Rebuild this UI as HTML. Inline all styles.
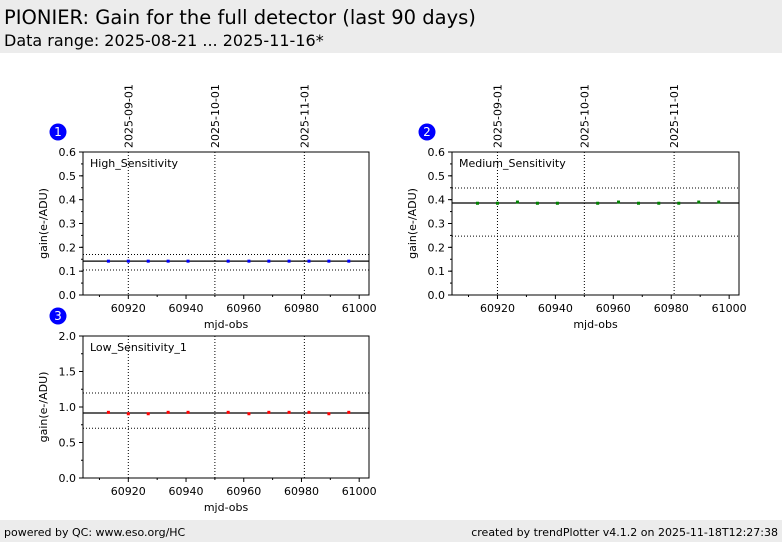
<!DOCTYPE html>
<html><head><meta charset="utf-8">
<style>
body{margin:0;width:782px;height:542px;background:#fff;font-family:"DejaVu Sans","Liberation Sans",sans-serif;overflow:hidden;position:relative}
#hdr{position:absolute;left:0;top:0;width:782px;height:53px;background:#ececec}
#t1{position:absolute;left:4px;top:6px;font-size:19.5px;color:#000}
#t2{position:absolute;left:4px;top:31px;font-size:16px;color:#000}
#ftr{position:absolute;left:0;top:520px;width:782px;height:22px;background:#ececec;font-size:11px}
#fl{position:absolute;left:4px;top:6px}
#fr{position:absolute;right:4px;top:6px}
svg{position:absolute;left:0;top:0}
</style></head><body>
<div id="hdr">
<div id="t1">PIONIER: Gain for the full detector (last 90 days)</div>
<div id="t2">Data range: 2025-08-21 ... 2025-11-16*</div>
</div>
<svg id="chart" width="782" height="542"></svg>
<div id="ftr">
<span id="fl">powered by QC: www.eso.org/HC</span>
<span id="fr">created by trendPlotter v4.1.2 on 2025-11-18T12:27:38</span>
</div>
<script>
const mjd = [60913.1,60920,60926.9,60933.8,60940.7,60954.6,60961.8,60968.7,60975.7,60982.6,60989.5,60996.4];
const highVals = [0.142,0.142,0.142,0.142,0.142,0.142,0.142,0.142,0.142,0.142,0.142,0.142];
const medVals = [0.385,0.385,0.39,0.385,0.385,0.385,0.39,0.385,0.385,0.385,0.39,0.39];
const lowVals = [0.925,0.905,0.905,0.925,0.925,0.925,0.905,0.925,0.925,0.925,0.905,0.925];
const xTicks = [60920,60940,60960,60980,61000];
const dateMjd = [60920,60950,60981];
const dateLabels = ["2025-09-01","2025-10-01","2025-11-01"];
const panels = [
 {name:"High_Sensitivity",num:"1",x0:83,y0:152,w:286,h:143,ymax:0.6,yt:[0,0.1,0.2,0.3,0.4,0.5,0.6],dec:1,vals:highVals,col:"#0000ff",mean:0.142,lo:0.105,hi:0.17,dates:true},
 {name:"Medium_Sensitivity",num:"2",x0:452,y0:152,w:287,h:143,ymax:0.6,yt:[0,0.1,0.2,0.3,0.4,0.5,0.6],dec:1,vals:medVals,col:"#008000",mean:0.386,lo:0.247,hi:0.449,dates:true},
 {name:"Low_Sensitivity_1",num:"3",x0:83,y0:336,w:286,h:142,ymax:2.0,yt:[0,0.5,1.0,1.5,2.0],dec:1,vals:lowVals,col:"#ff0000",mean:0.915,lo:0.70,hi:1.197,dates:false}
];
const svg=document.getElementById('chart');
const NS="http://www.w3.org/2000/svg";
function mk(tag,attrs,text){const e=document.createElementNS(NS,tag);for(const k in attrs)e.setAttribute(k,attrs[k]);if(text!==undefined)e.textContent=text;svg.appendChild(e);return e;}
const XMIN=60904.3, XMAX=61003.4;
panels.forEach((p,pi)=>{
 const sx=v=>p.x0+(v-XMIN)/(XMAX-XMIN)*p.w;
 const sy=v=>p.y0+p.h-(v/p.ymax)*p.h;
 let c=mk('circle',{cx:p.x0-25,cy:p.y0-20,r:8.5,fill:'#0000ff'});
 
 
 mk('text',{x:p.x0-25,y:p.y0-16,'text-anchor':'middle','font-size':12,fill:'#fff'},p.num);
 dateMjd.forEach((d,i)=>{
  const l=mk('line',{x1:sx(d),x2:sx(d),y1:p.y0,y2:p.y0+p.h,stroke:'#000','stroke-width':1,'stroke-dasharray':'1,2'});
  
  
  if(p.dates){
   const t=mk('text',{x:0,y:0,'font-size':11,transform:`translate(${sx(d)+4},${p.y0-4}) rotate(-90)`},dateLabels[i]);
   
   
  }
 });
 [p.lo,p.hi].forEach(v=>{
  const l=mk('line',{x1:p.x0,x2:p.x0+p.w,y1:sy(v),y2:sy(v),stroke:'#000','stroke-width':1,'stroke-dasharray':'1,2'});
  
  
 });
 const ml=mk('line',{x1:p.x0,x2:p.x0+p.w,y1:sy(p.mean),y2:sy(p.mean),stroke:'#000','stroke-width':1.2});
 
 
 p.vals.forEach((v,i)=>{
  const r=mk('rect',{x:sx(mjd[i])-1.5,y:sy(v)-1.5,width:3,height:3,fill:p.col});
  
  
 });
 const f=mk('rect',{x:p.x0,y:p.y0,width:p.w,height:p.h,fill:'none',stroke:'#000','stroke-width':1});
 
 
 p.yt.forEach(v=>{
  mk('line',{x1:p.x0-4,x2:p.x0,y1:sy(v),y2:sy(v),stroke:'#000'});
  const t=mk('text',{x:p.x0-7,y:sy(v)+4,'text-anchor':'end','font-size':11},v.toFixed(p.dec));
  
  
 });
 const step=p.yt[1]-p.yt[0];
 for(let v=0;v<p.ymax;v+=step/2){mk('line',{x1:p.x0-2,x2:p.x0,y1:sy(v+step/2),y2:sy(v+step/2),stroke:'#000'});}
 xTicks.forEach(v=>{
  mk('line',{x1:sx(v),x2:sx(v),y1:p.y0+p.h,y2:p.y0+p.h+4,stroke:'#000'});
  const t=mk('text',{x:sx(v),y:p.y0+p.h+17,'text-anchor':'middle','font-size':11},v);
  
  
 });
 for(let v=60910;v<=61000;v+=10){if(v%20)mk('line',{x1:sx(v),x2:sx(v),y1:p.y0+p.h,y2:p.y0+p.h+2,stroke:'#000'});}
 const xt=mk('text',{x:p.x0+p.w/2,y:p.y0+p.h+33,'text-anchor':'middle','font-size':11},'mjd-obs');
 
 
 const yt=mk('text',{x:0,y:0,'text-anchor':'middle','font-size':11,transform:`translate(${p.x0-36},${p.y0+p.h/2}) rotate(-90)`},'gain(e-/ADU)');
 
 
 const lb=mk('text',{x:p.x0+7,y:p.y0+15,'font-size':11},p.name);
 
 
});
</script>
</body></html>
